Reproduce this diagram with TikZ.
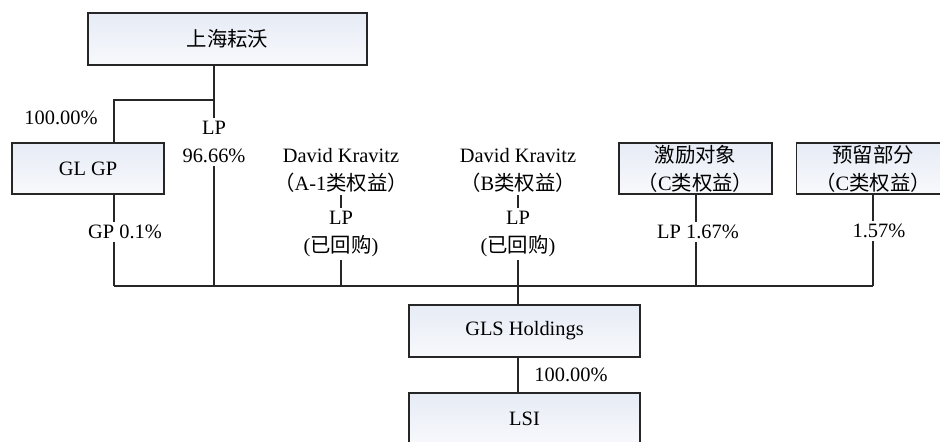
\documentclass[tikz,border=0pt]{standalone}
\usepackage{fontspec}
\usepackage{xcolor}
\setmainfont{Liberation Serif}
\newfontfamily\cjk{Noto Sans CJK SC}
\newcommand\zh[1]{{\cjk #1}}
\definecolor{boxtop}{HTML}{E6EBF5}
\definecolor{boxbot}{HTML}{F8F9FC}
\definecolor{edge}{HTML}{262626}

\begin{document}
\begin{tikzpicture}[x=0.5pt, y=-0.5pt, font=\fontsize{10.2pt}{14pt}\selectfont,
    box/.style={draw=edge, line width=0.8pt, top color=boxtop, bottom color=boxbot, align=center, inner sep=0pt},
    lbl/.style={inner sep=1.5pt, align=center},
    wire/.style={draw=edge, line width=0.65pt}]
  \useasboundingbox (0,0) rectangle (940,441);

    \node [box, minimum width=139.5pt, minimum height=26pt] (syw) at (227.5, 39) {\zh{上海耘沃}};
    \node [box, minimum width=76pt, minimum height=25.5pt] (glgp) at (88, 168.5) {GL GP};
    \node [box, minimum width=76.5pt, minimum height=25.5pt] (jl) at (695.5, 168.5) {\zh{激励对象}\\\zh{（}C\zh{类权益）}};
    \node [box, minimum width=76.5pt, minimum height=25.5pt] (yl) at (873, 168.5) {\zh{预留部分}\\\zh{（}C\zh{类权益）}};
    \node [box, minimum width=115.5pt, minimum height=26pt] (gls) at (524.5, 331) {GLS Holdings};
    \node [box, minimum width=115.5pt, minimum height=26pt] (lsi) at (524.5, 419) {LSI};

    \node [lbl] (p100) at (61, 118) {100.00\%};
    \node [lbl] (lp) at (214, 142) {LP\\96.66\%};
    \node [lbl] (gp) at (125, 232) {GP 0.1\%};
    \node [lbl] (dka) at (341, 170) {David Kravitz\\\zh{（}A-1\zh{类权益）}};
    \node [lbl] (lpa) at (341, 234) {LP\\(\zh{已回购})};
    \node [lbl] (dkb) at (518, 170) {David Kravitz\\\zh{（}B\zh{类权益）}};
    \node [lbl] (lpb) at (518, 234) {LP\\(\zh{已回购})};
    \node [lbl] (lpc) at (698, 232) {LP 1.67\%};
    \node [lbl] (lpd) at (879, 231) {1.57\%};
    \node [lbl] (p100b) at (571, 375) {100.00\%};

    \coordinate (top) at (214, 100);
    \coordinate (b1) at (114, 286);
    \coordinate (b2) at (214, 286);
    \coordinate (b3) at (341, 286);
    \coordinate (b4) at (518, 286);
    \coordinate (b5) at (696, 286);
    \coordinate (b6) at (873, 286);

    \draw [wire] (syw.south -| top) -- (top) -| (glgp.north -| b1);
    \draw [wire] (top) -- (lp.north);
    \draw [wire] (lp.south) -- (b2);
    \draw [wire] (glgp.south -| b1) -- (gp.north -| b1);
    \draw [wire] (gp.south -| b1) -- (b1);
    \draw [wire] (dka.south) -- (lpa.north);
    \draw [wire] (lpa.south) -- (b3);
    \draw [wire] (dkb.south) -- (lpb.north);
    \draw [wire] (lpb.south) -- (b4);
    \draw [wire] (jl.south -| b5) -- (lpc.north -| b5);
    \draw [wire] (lpc.south -| b5) -- (b5);
    \draw [wire] (yl.south -| b6) -- (lpd.north -| b6);
    \draw [wire] (lpd.south -| b6) -- (b6);
    \draw [wire] (b1) -- (b6);
    \draw [wire] (b4) -- (gls.north -| b4);
    \draw [wire] (gls.south -| b4) -- (lsi.north -| b4);

  \end{tikzpicture}
\end{document}
